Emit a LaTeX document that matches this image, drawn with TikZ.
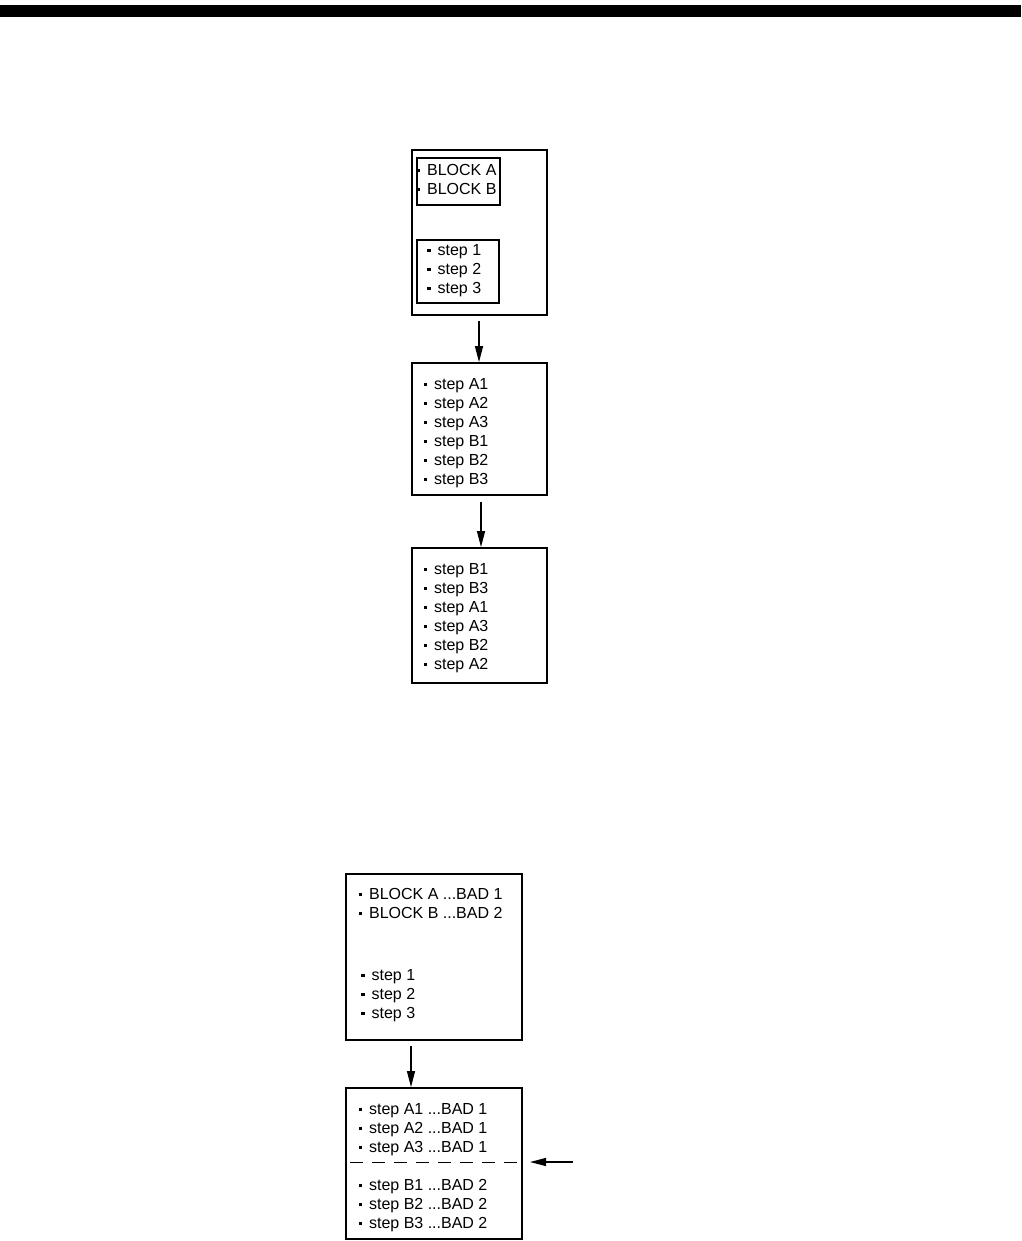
\documentclass[tikz,border=0pt]{standalone}
\usepackage{fontspec}
\setmainfont{Liberation Sans}
\usetikzlibrary{arrows.meta}
\newcommand{\bl}[1]{\rule[3.3pt]{3.4pt}{3.4pt}\hspace{7pt}#1}
\newcommand{\ddd}{...}
\tikzset{
  box/.style={draw, line width=1.8pt, inner sep=0pt},
  txt/.style={anchor=base west, inner sep=0pt, font=\fontsize{16pt}{19pt}\selectfont},
  conn/.style={line width=1.3pt, -{Triangle[length=16pt,width=8pt]}},
}
\begin{document}
\begin{tikzpicture}[x=1pt,y=-1pt]
\useasboundingbox (0,0) rectangle (1021,1241);
\fill (0,5) rectangle (1021,17);
% box 1
\node[box, minimum width=135pt, minimum height=165pt] (b1) at (479.5,232.5) {};
\node[box, minimum width=83pt, minimum height=47pt] (b1a) at (458.5,181.5) {};
\node[box, minimum width=82pt, minimum height=63pt] (b1b) at (458,271.5) {};
\node[txt] (b1t1) at (416.5,175.5) {\bl{BLOCK A}};
\node[txt] (b1t2) at (416.5,194.5) {\bl{BLOCK B}};
\foreach \t [count=\i] in {step 1,step 2,step 3}
  \node[txt] (b1s\i) at (427,{255.5+19*(\i-1)}) {\bl{\t}};
% box 2
\node[box, minimum width=135pt, minimum height=132pt] (b2) at (479.5,429) {};
\foreach \t [count=\i] in {step A1,step A2,step A3,step B1,step B2,step B3}
  \node[txt] (b2t\i) at (423.5,{389.5+19*(\i-1)}) {\bl{\t}};
% box 3
\node[box, minimum width=135pt, minimum height=135pt] (b3) at (479.5,615.5) {};
\foreach \t [count=\i] in {step B1,step B3,step A1,step A3,step B2,step A2}
  \node[txt] (b3t\i) at (423.5,{574.5+19*(\i-1)}) {\bl{\t}};
% box 4
\node[box, minimum width=176pt, minimum height=166pt] (b4) at (434,957) {};
\node[txt] (b4t1) at (358.5,899.5) {\bl{BLOCK A \ddd BAD 1}};
\node[txt] (b4t2) at (358.5,918.5) {\bl{BLOCK B \ddd BAD 2}};
\foreach \t [count=\i] in {step 1,step 2,step 3}
  \node[txt] (b4s\i) at (361,{980.5+19*(\i-1)}) {\bl{\t}};
% box 5
\node[box, minimum width=176pt, minimum height=151pt] (b5) at (434,1163.5) {};
\foreach \t [count=\i] in {step A1 \ddd BAD 1,step A2 \ddd BAD 1,step A3 \ddd BAD 1}
  \node[txt] (b5a\i) at (358.5,{1114.5+19*(\i-1)}) {\bl{\t}};
\foreach \t [count=\i] in {step B1 \ddd BAD 2,step B2 \ddd BAD 2,step B3 \ddd BAD 2}
  \node[txt] (b5b\i) at (358.5,{1190.5+19*(\i-1)}) {\bl{\t}};
\coordinate (dl) at (346,1162);
\coordinate (dr) at (522,1162);
\draw[line width=1pt, dash pattern=on 13pt off 9pt, dash phase=-4pt] (dl) -- (dr);
\coordinate (src) at (573,1162);
% connectors
\draw[conn] ([shift={(-0.5,5)}]b1.south) -- ([xshift=-0.5pt]b2.north);
\draw[conn] ([shift={(1.5,6)}]b2.south) -- ([xshift=1.5pt]b3.north);
\draw[conn] ([shift={(-23,5)}]b4.south) -- ([xshift=-23pt]b5.north);
\draw[conn] (src) -- ([xshift=8pt]dr);
\end{tikzpicture}
\end{document}
